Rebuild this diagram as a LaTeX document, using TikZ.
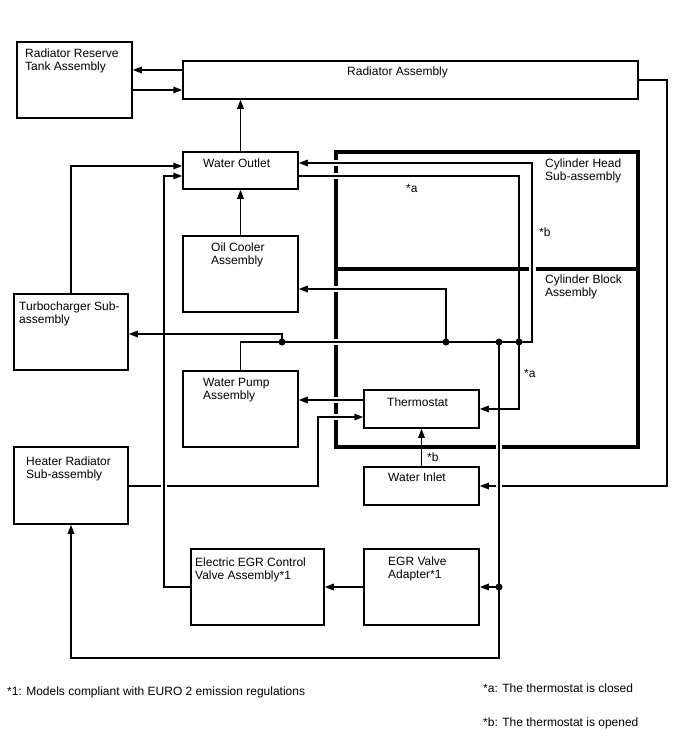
\documentclass[tikz,border=0pt]{standalone}
\usepackage{fontspec}
\setmainfont{Liberation Sans}
\usetikzlibrary{arrows.meta}
\newcommand\tstrut{\rule{0pt}{9pt}}
\begin{document}
\begin{tikzpicture}[x=1pt,y=-1pt,
  box/.style 2 args={draw, line width=1.5pt, inner sep=0pt, minimum width=#1pt, minimum height=#2pt},
  conn/.style={line width=1.5pt},
  arr/.style={conn, -{Triangle[length=9pt,width=6.5pt]}},
  dot/.style={circle, fill, inner sep=0pt, minimum size=7pt},
  lbl/.style={anchor=north west, inner sep=0pt, align=left, font=\fontsize{12}{13.7}\selectfont},
  eng/.style={line width=3.2pt, line join=miter}]
\useasboundingbox (0,0) rectangle (688,755);

% engine block outline (with gaps where pipes cross)
\node[inner sep=0pt, minimum width=302pt, minimum height=295pt] (engine) at (487,299.5) {};
\draw[eng] (336,160) -- (336,152) -- (638,152) -- (638,447) -- (502,447);
\draw[eng] (496,447) -- (336,447) -- (336,420);
\draw[eng] (336,414) -- (336,403);
\draw[eng] (336,397) -- (336,345);
\draw[eng] (336,339) -- (336,292);
\draw[eng] (336,286) -- (336,179);
\draw[eng] (336,173) -- (336,166);
\draw[eng] (336,269) -- (528.5,269);
\draw[eng] (535.5,269) -- (638,269);

% boxes
\node[box={115}{76}] (tank)   at (74.5,80)   {};
\node[box={455}{38}] (rad)    at (410.5,80)  {};
\node[box={115}{37}] (wout)   at (240.5,170.5) {};
\node[box={115}{76}] (oil)    at (240.5,274) {};
\node[box={114}{76}] (turbo)  at (71,332)    {};
\node[box={115}{76}] (pump)   at (240.5,409) {};
\node[box={115}{38}] (thermo) at (421.5,409) {};
\node[box={114}{77}] (heater) at (71,485.5)  {};
\node[box={115}{38}] (inlet)  at (421.5,486) {};
\node[box={133}{76}] (egrc)   at (257.5,587) {};
\node[box={115}{76}] (egra)   at (421.5,587) {};

% junction dots
\node[dot] (j1) at (282,342) {};
\node[dot] (j2) at (446,342) {};
\node[dot] (j3) at (499,342) {};
\node[dot] (j4) at (519,342) {};
\node[dot] (j5) at (499,587) {};
\coordinate (bturn) at (532,342);

% connectors
\draw[arr] (rad.west |- 0,70) -- (tank.east |- 0,70);
\draw[arr] (tank.east |- 0,90) -- (rad.west |- 0,90);
\draw[arr] (wout.north) -- (wout.north |- rad.south);
\draw[arr] (oil.north) -- (oil.north |- wout.south);
\draw[arr] (pump.north) |- (bturn) |- (wout.east |- 0,163);
\draw[arr] (wout.east |- 0,176) -| (519,409) -- (thermo.east);
\draw[arr] (j1.center) |- (turbo.east |- 0,334);
\draw[arr] (j2.center) |- (oil.east |- 0,289);
\draw[arr] (j3.center) -- (499,658) -| (heater.south);
\draw[arr] (j5.center) -- (egra.east);
\draw[arr] (egra.west) -- (egrc.east);
\draw[arr] (egrc.west) -| (164,176) -- (wout.west |- 0,176);
\draw[arr] (turbo.north) |- (wout.west |- 0,166);
\draw[arr] (thermo.west |- 0,400) -- (pump.east |- 0,400);
\draw[conn] (heater.east |- 0,486) -- (161,486);
\draw[arr] (167,486) -| (318,417) -- (thermo.west |- 0,417);
\draw[arr] (inlet.north) -- (thermo.south);
\draw[conn] (rad.east) -| (667,486) -- (502,486);
\draw[arr] (496,486) -- (inlet.east);

% labels
\node[lbl] (t-tank)   at (25,48)   {\tstrut Radiator Reserve\\Tank Assembly};
\node[lbl] (t-rad)    at (347,66)  {\tstrut Radiator Assembly};
\node[lbl] (t-wout)   at (203,158) {\tstrut Water Outlet};
\node[lbl] (t-head)   at (545,158) {\tstrut Cylinder Head\\Sub-assembly};
\node[lbl] (t-a1)     at (406,183) {\tstrut *a};
\node[lbl] (t-b1)     at (539,227) {\tstrut *b};
\node[lbl] (t-block)  at (545,274) {\tstrut Cylinder Block\\Assembly};
\node[lbl] (t-oil)    at (211,242) {\tstrut Oil Cooler\\Assembly};
\node[lbl] (t-turbo)  at (19,301)  {\tstrut Turbocharger Sub-\\assembly};
\node[lbl] (t-pump)   at (203,377) {\tstrut Water Pump\\Assembly};
\node[lbl] (t-thermo) at (387,397) {\tstrut Thermostat};
\node[lbl] (t-a2)     at (524,368) {\tstrut *a};
\node[lbl] (t-heater) at (26,456)  {\tstrut Heater Radiator\\Sub-assembly};
\node[lbl] (t-b2)     at (427,452) {\tstrut *b};
\node[lbl] (t-inlet)  at (388,472) {\tstrut Water Inlet};
\node[lbl] (t-egrc)   at (195,557) {\tstrut Electric EGR Control\\Valve Assembly*1};
\node[lbl] (t-egra)   at (388,556) {\tstrut EGR Valve\\Adapter*1};

% footnotes
\node[lbl] (n1) at (7,686)   {\tstrut *1: Models compliant with EURO 2 emission regulations};
\node[lbl] (na) at (483,683) {\tstrut *a: The thermostat is closed};
\node[lbl] (nb) at (483,717) {\tstrut *b: The thermostat is opened};
\end{tikzpicture}
\end{document}
